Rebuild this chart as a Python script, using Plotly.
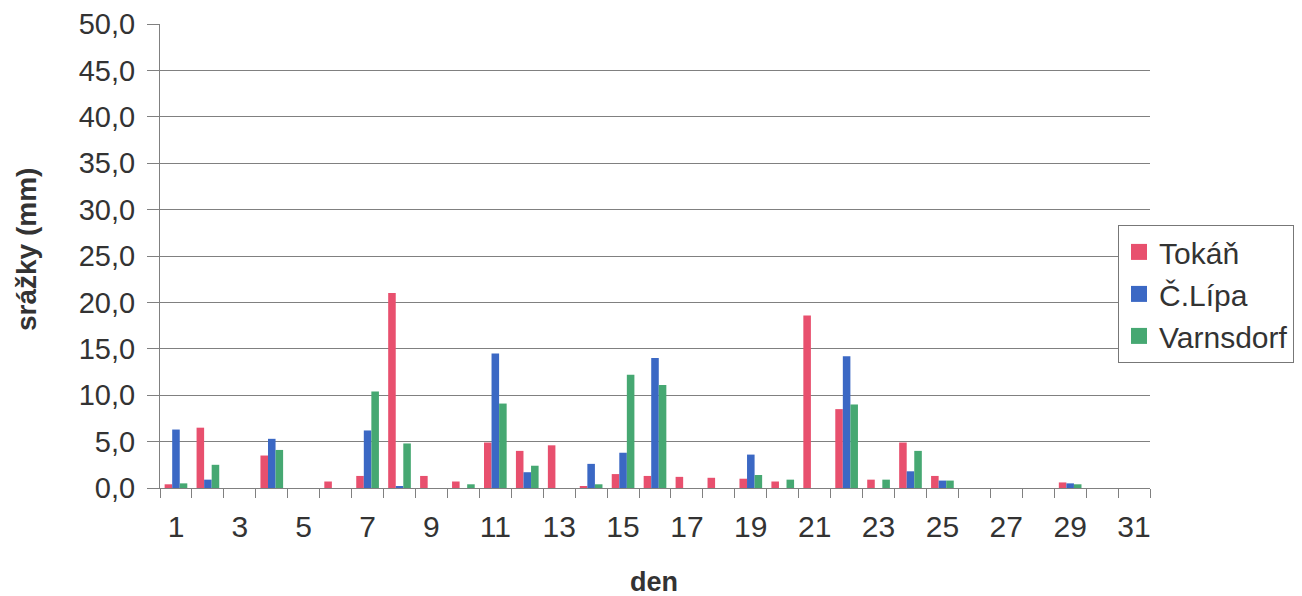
import plotly.graph_objects as go

days = list(range(1, 32))
tokan = [0.4, 6.5, 0, 3.5, 0, 0.7, 1.3, 21.0, 1.3, 0.7,
         4.9, 4.0, 4.6, 0.2, 1.5, 1.3, 1.2, 1.1, 1.0, 0.7,
         18.6, 8.5, 0.9, 4.9, 1.3, 0, 0, 0, 0.6, 0, 0]
clipa = [6.3, 0.9, 0, 5.3, 0, 0, 6.2, 0.2, 0, 0,
         14.5, 1.7, 0, 2.6, 3.8, 14.0, 0, 0, 3.6, 0,
         0, 14.2, 0, 1.8, 0.8, 0, 0, 0, 0.5, 0, 0]
varnsdorf = [0.5, 2.5, 0, 4.1, 0, 0, 10.4, 4.8, 0, 0.4,
             9.1, 2.4, 0, 0.4, 12.2, 11.1, 0, 0, 1.4, 0.9,
             0, 9.0, 0.9, 4.0, 0.8, 0, 0, 0, 0.4, 0, 0]
series_names = ["Tokáň", "Č.Lípa", "Varnsdorf"]
colors = ["#E8506E", "#3B68C4", "#46A872"]
tick_days = list(range(1, 32, 2))
y_ticks = list(range(0, 51, 5))

FONT = "Liberation Sans, Arial, sans-serif"
TXT = "#333333"
GRID = "#808080"

fig = go.Figure()
for name, vals, col in zip(series_names, [tokan, clipa, varnsdorf], colors):
    fig.add_trace(go.Bar(x=days, y=vals, name=name, showlegend=False,
                         marker=dict(color=col, line=dict(width=0))))
# legend entries (square swatches)
for name, col in zip(series_names, colors):
    fig.add_trace(go.Scatter(x=[None], y=[None], mode="markers", name=name,
                             marker=dict(symbol="square", size=20, color=col)))

fig.update_layout(
    width=1294, height=588,
    margin=dict(l=152, r=152, t=16, b=108, autoexpand=False),
    paper_bgcolor="white", plot_bgcolor="white",
    barmode="group", bargap=0.29, bargroupgap=0,
    separators=", ",
    font=dict(family=FONT, color=TXT),
    showlegend=True,
    legend=dict(x=0.9677, y=0.567, xanchor="left", yanchor="top",
                bgcolor="white", bordercolor="#777777", borderwidth=1,
                font=dict(size=30, color=TXT), tracegroupgap=0,
                itemwidth=30),
)
fig.update_xaxes(
    range=[0.5, 31.5], tickmode="array", tickvals=tick_days,
    ticktext=[str(d) for d in tick_days],
    ticks="", showgrid=False, zeroline=False, automargin=False,
    showline=True, linecolor=GRID, linewidth=1,
    tickfont=dict(size=30, color=TXT),
    ticklabelstandoff=12,
    minor=dict(tick0=0.5, dtick=1, ticks="outside", ticklen=9, tickcolor=GRID, showgrid=False),
)
fig.update_yaxes(
    range=[0, 50], tickmode="array", tickvals=y_ticks, tickformat=".1f",
    ticks="outside", ticklen=12, tickcolor=GRID, automargin=False,
    showgrid=True, gridcolor=GRID, gridwidth=1,
    zeroline=False, showline=True, linecolor=GRID, linewidth=1,
    tickfont=dict(size=29, color=TXT),
    ticklabelstandoff=6,
)
fig.add_annotation(text="<b>srážky (mm)</b>", xref="paper", yref="paper",
                   x=-0.1343, y=0.513, xanchor="center", yanchor="middle",
                   textangle=-90, showarrow=False,
                   font=dict(size=28, color=TXT))
fig.add_annotation(text="<b>den</b>", xref="paper", yref="paper",
                   x=0.499, y=-0.2026, xanchor="center", yanchor="middle",
                   showarrow=False,
                   font=dict(size=27, color=TXT))

fig.write_html("out.html")
